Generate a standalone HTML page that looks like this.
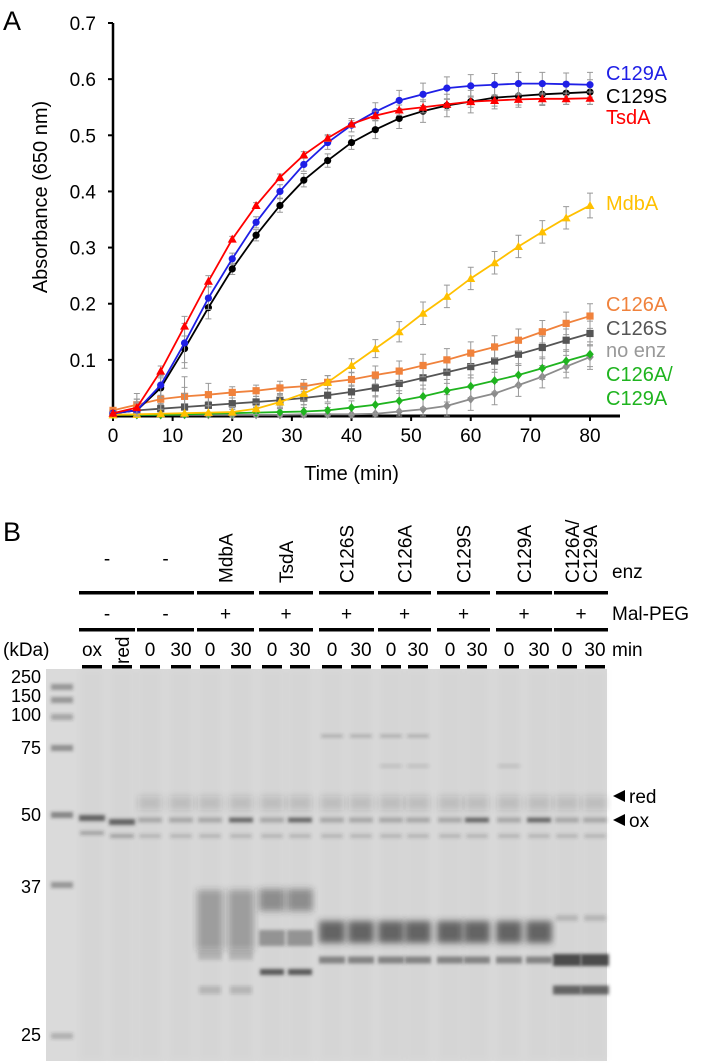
<!DOCTYPE html>
<html><head><meta charset="utf-8"><style>
html,body{margin:0;padding:0;background:#fff}
svg{display:block;font-family:"Liberation Sans",Arial,sans-serif}
</style></head><body>
<svg id="fig" width="704" height="1063" viewBox="0 0 704 1063" xmlns="http://www.w3.org/2000/svg">
<defs>
<filter id="b1" x="-20%" y="-100%" width="140%" height="300%"><feGaussianBlur stdDeviation="1.6"/></filter>
<filter id="b2" x="-20%" y="-100%" width="140%" height="300%"><feGaussianBlur stdDeviation="3.5"/></filter>
</defs>
<text x="3" y="30" font-size="27">A</text>
<g id="chart"></g>

<text x="3" y="541" font-size="27">B</text>
<g id="gelhdr"></g>
<g id="gel">
<rect x="46" y="669" width="561" height="392" fill="#dadada"/>
</g>
<g id="kda" font-size="18" text-anchor="end"></g>
<g font-size="19">
<polygon points="613,796 625,790 625,802" fill="#000"/>
<text x="629" y="803">red</text>
<polygon points="613,820 625,814 625,826" fill="#000"/>
<text x="629" y="827">ox</text>
</g>
</svg>
<script>
const times=[0,4,8,12,16,20,24,28,32,36,40,44,48,52,56,60,64,68,72,76,80];
const tsdA=[0.005,0.015,0.08,0.16,0.24,0.315,0.375,0.425,0.465,0.495,0.52,0.535,0.545,0.55,0.555,0.56,0.562,0.564,0.565,0.565,0.566];
const c129A=[0.005,0.01,0.055,0.13,0.21,0.28,0.345,0.4,0.448,0.487,0.518,0.542,0.562,0.573,0.584,0.588,0.59,0.592,0.592,0.591,0.59];
const c129S=[0.005,0.01,0.05,0.12,0.193,0.262,0.322,0.375,0.42,0.455,0.487,0.51,0.53,0.543,0.553,0.56,0.567,0.57,0.573,0.575,0.577];
const mdbA=[0.002,0.003,0.004,0.005,0.006,0.007,0.013,0.025,0.04,0.06,0.09,0.12,0.15,0.183,0.213,0.245,0.273,0.302,0.328,0.353,0.375];
const c126A=[0.01,0.02,0.03,0.035,0.038,0.042,0.045,0.05,0.053,0.06,0.065,0.073,0.08,0.09,0.1,0.112,0.123,0.135,0.15,0.165,0.178];
const c126S=[0.005,0.01,0.013,0.016,0.019,0.022,0.025,0.028,0.032,0.037,0.043,0.05,0.058,0.068,0.078,0.088,0.098,0.11,0.122,0.135,0.147];
const noEnz=[0.003,0.002,0.002,0.002,0.002,0.002,0.002,0.002,0.003,0.003,0.003,0.004,0.008,0.012,0.018,0.03,0.04,0.055,0.07,0.088,0.105];
const dbl=[0.002,0.002,0.002,0.003,0.004,0.005,0.006,0.007,0.008,0.01,0.015,0.02,0.027,0.035,0.045,0.053,0.063,0.073,0.085,0.098,0.11];
const errs=[0.004,0.02,0.018,0.035,0.02,0.01,0.01,0.012,0.012,0.012,0.012,0.016,0.018,0.02,0.02,0.02,0.02,0.02,0.02,0.02,0.022];
const yTicks=[0.1,0.2,0.3,0.4,0.5,0.6,0.7];
const xTicks=[0,10,20,30,40,50,60,70,80];
const NS="http://www.w3.org/2000/svg";
function mk(p,t,a){const e=document.createElementNS(NS,t);for(const k in a)e.setAttribute(k,a[k]);p.appendChild(e);return e;}
const X=v=>113+v*(590-113)/80, Y=v=>416-v*(416-23)/0.7;
const g=document.getElementById('chart');
let e;
e=mk(g,'line',{x1:X(0),y1:Y(0.7),x2:X(0),y2:417,stroke:'#000','stroke-width':2.5});

e=mk(g,'line',{x1:X(0)-1,y1:416,x2:620,y2:416,stroke:'#000','stroke-width':3});

yTicks.forEach(v=>{
 mk(g,'line',{x1:X(0)-5,y1:Y(v),x2:X(0),y2:Y(v),stroke:'#000','stroke-width':2});
 e=mk(g,'text',{x:96,y:Y(v)+7,'font-size':19,'text-anchor':'end'});e.textContent=v.toFixed(1);
 
});
xTicks.forEach(v=>{
 mk(g,'line',{x1:X(v),y1:416,x2:X(v),y2:421,stroke:'#000','stroke-width':2});
 e=mk(g,'text',{x:X(v),y:442,'font-size':19,'text-anchor':'middle'});e.textContent=v;
 
});
e=mk(g,'text',{x:X(40),y:480,'font-size':20,'text-anchor':'middle'});e.textContent='Time (min)';

e=mk(g,'text',{x:0,y:0,'font-size':20,'text-anchor':'middle',transform:'translate(47,197) rotate(-90)'});e.textContent='Absorbance (650 nm)';

const series=[
 {n:'no-enz',d:noEnz,c:'#8c8c8c',m:'d'},
 {n:'c126a-c129a',d:dbl,c:'#1fb41f',m:'d'},
 {n:'c126s',d:c126S,c:'#555555',m:'s'},
 {n:'c126a',d:c126A,c:'#f0823c',m:'s'},
 {n:'mdba',d:mdbA,c:'#ffc000',m:'t'},
 {n:'c129s',d:c129S,c:'#000000',m:'c'},
 {n:'c129a',d:c129A,c:'#1f1fe6',m:'c'},
 {n:'tsda',d:tsdA,c:'#ff0000',m:'t'}
];
series.forEach(s=>{
 const sg=mk(g,'g',{});
 
 s.d.forEach((v,i)=>{const er=errs[i]*(s.n==='tsda'?0.5:1);
  mk(sg,'path',{d:`M${X(times[i])},${Y(v+er)}V${Y(Math.max(0,v-er))}M${X(times[i])-3},${Y(v+er)}h6M${X(times[i])-3},${Y(Math.max(0,v-er))}h6`,stroke:'#999','stroke-width':1,fill:'none'});});
 e=mk(sg,'polyline',{points:s.d.map((v,i)=>X(times[i])+','+Y(v)).join(' '),fill:'none',stroke:s.c,'stroke-width':1.8});
 
 s.d.forEach((v,i)=>{const x=X(times[i]),y=Y(v);let m;
  if(s.m==='c')m=mk(sg,'circle',{cx:x,cy:y,r:3.6,fill:s.c});
  else if(s.m==='s')m=mk(sg,'rect',{x:x-3.6,y:y-3.6,width:7.2,height:7.2,fill:s.c});
  else if(s.m==='t')m=mk(sg,'polygon',{points:`${x},${y-4.5} ${x+4.5},${y+3.5} ${x-4.5},${y+3.5}`,fill:s.c});
  else m=mk(sg,'polygon',{points:`${x},${y-4.5} ${x+3.8},${y} ${x},${y+4.5} ${x-3.8},${y}`,fill:s.c});
  });
});
const legs=[['C129A','#1f1fe6',80],['C129S','#000',103],['TsdA','#ff0000',124],['MdbA','#ffc000',210],['C126A','#f0823c',311],['C126S','#555',335],['no enz','#999',357],['C126A/','#1fb41f',381],['C129A','#1fb41f',405]];
legs.forEach(l=>{e=mk(g,'text',{x:606,y:l[2],'font-size':20,fill:l[1]});e.textContent=l[0];
 });

// gel header
const lanes=[92,122,150,181,210,241,272,300,332,361,391,418,450,477,509,539,567,595];
const groups=[['-',''],['-',''],['+','MdbA'],['+','TsdA'],['+','C126S'],['+','C126A'],['+','C129S'],['+','C129A'],['+','C126A/|C129A']];
const h=document.getElementById('gelhdr');
groups.forEach((gr,i)=>{
 const x1=lanes[2*i]-13,x2=lanes[2*i+1]+13,cx=(x1+x2)/2;
 mk(h,'rect',{x:x1,y:591,width:x2-x1,height:3.5,fill:'#000'});
 mk(h,'rect',{x:x1,y:628,width:x2-x1,height:3.5,fill:'#000'});
 e=mk(h,'text',{x:cx,y:620,'font-size':19,'text-anchor':'middle'});e.textContent=i===0?'-':gr[0];
 
 if(gr[1]===''){e=mk(h,'text',{x:cx,y:565,'font-size':19,'text-anchor':'middle'});e.textContent='-';}
 else{const parts=gr[1].split('|');
  parts.forEach((p,j)=>{e=mk(h,'text',{x:0,y:0,'font-size':19,transform:`translate(${cx+7+(parts.length>1?(j?9:-9):0)},583) rotate(-90)`});e.textContent=p;
  });}
});
const mins=['ox','red','0','30','0','30','0','30','0','30','0','30','0','30','0','30','0','30'];
mins.forEach((m,i)=>{
 if(m==='red'){e=mk(h,'text',{x:0,y:0,'font-size':19,transform:`translate(${lanes[i]+7},664) rotate(-90)`});}
 else e=mk(h,'text',{x:lanes[i],y:656,'font-size':19,'text-anchor':'middle'});
 e.textContent=m;
 mk(h,'rect',{x:lanes[i]-10,y:665,width:20,height:3.5,fill:'#000'});
});
[['(kDa)',3,656],['enz',612,578],['Mal-PEG',612,620],['min',612,656]].forEach(t=>{
 e=mk(h,'text',{x:t[1],y:t[2],'font-size':19});e.textContent=t[0];
 });

// gel bands
const gel=document.getElementById('gel');
function band(x,y,w,hh,op,f){const r=mk(gel,'rect',{x:x-w/2,y:y-hh/2,width:w,height:hh,fill:'#333','fill-opacity':op,filter:'url(#'+(f||'b1')+')'});
 }
lanes.forEach((x,i)=>band(x,865,24,390,0.025,'b2'));
// ladder
[[687,.4],[700,.4],[717,.3],[748,.45],[815,.5],[885,.4],[1036,.25]].forEach(b=>band(62,b[0],22,6,b[1]));
// ox/red
band(92,818,26,6,.7);band(92,833,24,4,.3);band(122,822,26,6,.7);band(122,836,24,4,.3);
// main 50kDa region
for(let i=2;i<18;i++){const x=lanes[i];
 const strong=[5,7,13,15].includes(i);
 band(x,803,24,14,.14,'b2');band(x,820,24,5,strong?.65:.28);band(x,836,22,4,.2);}
// faint high bands
[8,9,10,11].forEach(i=>band(lanes[i],736,22,3,.25));
[10,11,14].forEach(i=>band(lanes[i],766,22,3,.15));
// mdbA smear
[4,5].forEach(i=>{band(lanes[i],920,26,60,.35,'b2');band(lanes[i],955,24,10,.2);band(lanes[i],990,22,8,.18);});
// tsdA
[6,7].forEach(i=>{band(lanes[i],900,26,22,.45,'b2');band(lanes[i],938,26,16,.4);band(lanes[i],972,24,6,.75);});
// mutants
for(let i=8;i<16;i++){band(lanes[i],932,26,22,.7,'b2');band(lanes[i],960,26,7,.5);}
// double mutant
[16,17].forEach(i=>{band(lanes[i],918,22,6,.2);band(lanes[i],960,28,12,.85);band(lanes[i],990,28,9,.7);});
// kDa labels
const kd=document.getElementById('kda');
[['250',683],['150',702],['100',721],['75',754],['50',821],['37',893],['25',1041]].forEach(k=>{
 e=mk(kd,'text',{x:41,y:k[1]});e.textContent=k[0];
 });
</script>
</body></html>
